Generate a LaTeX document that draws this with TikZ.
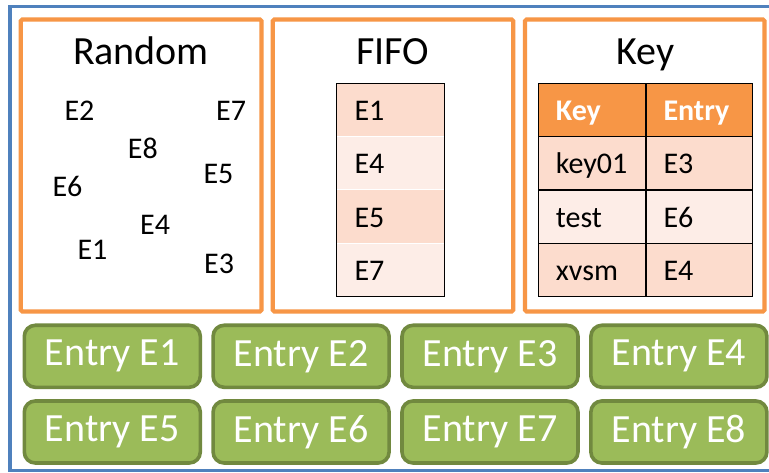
\documentclass[tikz,border=0pt]{standalone}
\usepackage{fontspec}
\setmainfont{Carlito}
\begin{document}
\definecolor{frameblue}{HTML}{4F81BD}
\definecolor{accorange}{HTML}{F79646}
\definecolor{banddark}{HTML}{FCDCCD}
\definecolor{bandlight}{HTML}{FDEDE7}
\definecolor{entryfill}{HTML}{9BBB59}
\definecolor{entryline}{HTML}{71893F}
\tikzset{
  panel/.style={draw=accorange, line width=4.2pt, rounded corners=1.5pt},
  title/.style={anchor=base, inner sep=0pt, font=\fontsize{40}{44}\selectfont},
  item/.style={anchor=base west, inner sep=0pt, font=\fontsize{30}{34}\selectfont},
  headtxt/.style={item, text=white, font=\fontsize{30}{34}\selectfont\bfseries},
  entrybox/.style={draw=entryline, fill=entryfill, line width=3.6pt, rounded corners=11pt,
    minimum width=176pt, minimum height=62pt, anchor=north west, inner sep=0pt,
    text=white, font=\fontsize{40}{44}\selectfont},
  gridline/.style={draw=black, line width=1.4pt},
}
\begin{tikzpicture}[x=1pt,y=-1pt]
\useasboundingbox (0,0) rectangle (769,473);
\fill[white] (0,0) rectangle (769,473);

% outer store frame (runs off the right edge)
\draw[frameblue, line width=3.4pt] (10,6.5) rectangle (790,470.3);

% three coordinator panels
\draw[panel] (20.8,19.5) rectangle (261.5,311.5);
\draw[panel] (272.8,19.5) rectangle (513.2,311.5);
\draw[panel] (525,19.5) rectangle (764.5,311.5);

\node[title] (trandom) at (141,65) {Random};
\node[title] (tfifo) at (393,65) {FIFO};
\node[title] (tkey) at (645.8,65) {Key};

% random coordinator: scattered entries
\node[item] (r2) at (64.3,120.7) {E2};
\node[item] (r7) at (216,120.7) {E7};
\node[item] (r8) at (127.7,158.3) {E8};
\node[item] (r5) at (203.3,183.3) {E5};
\node[item] (r6) at (52.3,196.7) {E6};
\node[item] (r4) at (140,235) {E4};
\node[item] (r1) at (77.3,259.3) {E1};
\node[item] (r3) at (204,273.3) {E3};

% FIFO coordinator: queue
\fill[banddark]  (336.7,83.3)  rectangle (444.3,136.7);
\fill[bandlight] (336.7,136.7) rectangle (444.3,190);
\fill[banddark]  (336.7,190)   rectangle (444.3,243.3);
\fill[bandlight] (336.7,243.3) rectangle (444.3,296.7);
\draw[white, line width=1pt] (336.7,136.7) -- (444.3,136.7)
  (336.7,190) -- (444.3,190) (336.7,243.3) -- (444.3,243.3);
\draw[gridline] (336.7,83.3) rectangle (444.3,296.7);
\node[item] (q1) at (354.3,120.7) {E1};
\node[item] (q2) at (354.3,174) {E4};
\node[item] (q3) at (354.3,227.3) {E5};
\node[item] (q4) at (354.3,280.6) {E7};

% key coordinator: lookup table
\fill[accorange] (538.3,83.3)  rectangle (752.7,136.7);
\fill[banddark]  (538.3,136.7) rectangle (752.7,190);
\fill[bandlight] (538.3,190)   rectangle (752.7,243.3);
\fill[banddark]  (538.3,243.3) rectangle (752.7,296.7);
\draw[gridline] (538.3,83.3) rectangle (752.7,296.7);
\draw[gridline] (646,83.3) -- (646,296.7)
  (538.3,136.7) -- (752.7,136.7) (538.3,190) -- (752.7,190) (538.3,243.3) -- (752.7,243.3);
\node[headtxt] (hkey) at (555.7,120.3) {Key};
\node[headtxt] (hentry) at (663.3,120.3) {Entry};
\node[item] (k1) at (555.7,174) {key01};
\node[item] (v1) at (663.3,174) {E3};
\node[item] (k2) at (555.7,227.3) {test};
\node[item] (v2) at (663.3,227.3) {E6};
\node[item] (k3) at (555.7,280.6) {xvsm};
\node[item] (v3) at (663.3,280.6) {E4};

% entries held in the container
\node[entrybox] (e1) at (22.5,323.5) {Entry E1};
\node[entrybox] (e2) at (211.3,323.5) {Entry E2};
\node[entrybox] (e3) at (400.2,323.5) {Entry E3};
\node[entrybox] (e4) at (589.1,323.5) {Entry E4};
\node[entrybox] (e5) at (22.5,399.2) {Entry E5};
\node[entrybox] (e6) at (211.3,399.2) {Entry E6};
\node[entrybox] (e7) at (400.2,399.2) {Entry E7};
\node[entrybox] (e8) at (589.1,399.2) {Entry E8};
\end{tikzpicture}
\end{document}
